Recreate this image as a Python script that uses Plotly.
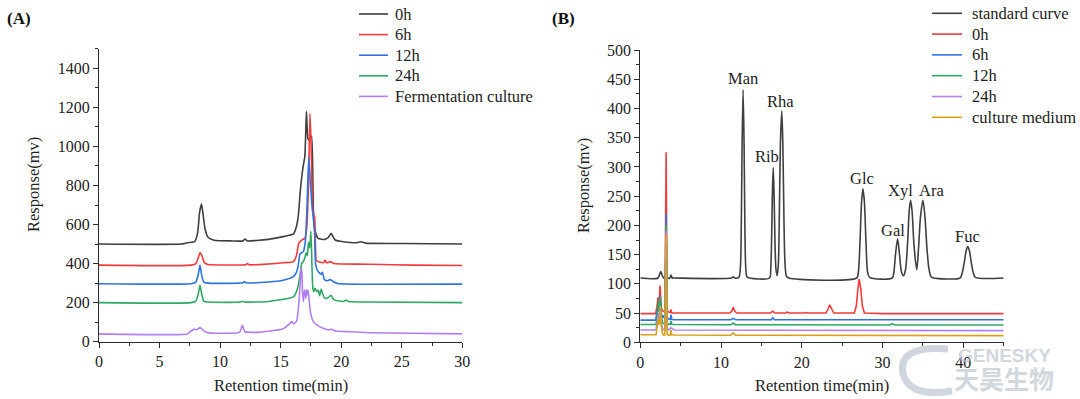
import plotly.graph_objects as go

W, H = 1080, 399
SERIF = "Liberation Serif, Times New Roman, serif"

# ---------------- Panel A data (Retention time min, Response mv) ----------------
a_names = ["0h", "6h", "12h", "24h", "Fermentation culture"]

a_0h_x = [0, 6.8, 7.3, 7.9, 8.15, 8.3, 8.47, 8.6, 8.75, 9.0, 9.5, 11.0, 11.9, 12.05, 12.25, 13.0, 14.0,
          15.2, 15.7, 16.05, 16.3, 16.45, 16.65, 16.85, 17.0, 17.13, 17.25, 17.38, 17.56, 17.7, 17.84,
          18.1, 18.65, 18.95, 19.16, 19.5, 20.2, 21.3, 21.6, 22.0, 25, 30]
a_0h_y = [500, 500, 507, 512, 560, 660, 705, 650, 580, 535, 520, 516, 516, 526, 516, 518, 524,
          538, 545, 551, 589, 640, 790, 895, 950, 1180, 1040, 1030, 1053, 680, 572,
          529, 524, 535, 555, 521, 512, 507, 512, 505, 503, 500]

a_6h_x = [0, 7.6, 8.0, 8.2, 8.35, 8.5, 8.7, 9.0, 10, 12.1, 12.25, 12.4, 14, 15.2, 16.05, 16.3, 16.5,
          16.75, 17.0, 17.15, 17.3, 17.42, 17.52, 17.62, 17.72, 17.8, 17.88, 17.95, 18.2, 18.55, 18.68,
          18.8, 19.1, 19.4, 20, 22.4, 26, 30]
a_6h_y = [392, 392, 400, 430, 457, 440, 405, 395, 393, 394, 400, 394, 398, 404, 410, 440, 505,
          520, 530, 580, 800, 1170, 1000, 720, 650, 640, 470, 415, 408, 405, 418,
          403, 410, 400, 398, 397, 392, 390]

a_12h_x = [0, 7.6, 8.0, 8.2, 8.34, 8.48, 8.65, 9.0, 11.9, 12.0, 12.15, 14, 15.2, 16.05, 16.3, 16.46,
           16.6, 16.87, 17.05, 17.18, 17.32, 17.45, 17.58, 17.7, 17.8, 17.88, 18.0, 18.15, 18.33, 18.45,
           18.6, 18.8, 19.1, 19.3, 19.7, 22.4, 30]
a_12h_y = [297, 297, 305, 345, 393, 340, 305, 300, 302, 308, 302, 306, 315, 333, 355, 393,
           450, 461, 520, 700, 947, 820, 700, 630, 560, 400, 370, 356, 345, 356,
           320, 312, 318, 310, 298, 294, 295]

a_24h_x = [0, 7.6, 8.0, 8.2, 8.34, 8.48, 8.65, 9.0, 11.7, 11.85, 12.0, 14, 15.2, 16.05, 16.3, 16.46,
           16.6, 16.74, 16.87, 17.0, 17.1, 17.2, 17.3, 17.4, 17.5, 17.58, 17.65, 17.72, 17.84, 17.98,
           18.1, 18.22, 18.35, 18.45, 18.66, 18.9, 19.15, 19.4, 19.8, 20.25, 20.4, 20.6, 22.4, 30]
a_24h_y = [200, 200, 208, 245, 290, 245, 208, 203, 203, 207, 203, 206, 217, 230, 255, 290,
           341, 401, 410, 430, 455, 440, 510, 480, 565, 400, 282, 256, 273, 256,
           265, 235, 270, 248, 222, 225, 238, 215, 208, 207, 213, 206, 203, 200]

a_fc_x = [0, 7.3, 7.51, 7.85, 8.1, 8.34, 8.55, 8.75, 9.2, 11.5, 11.64, 11.84, 12.05, 12.5, 13.36, 15.2,
          15.77, 15.9, 16.05, 16.32, 16.5, 16.6, 16.68, 16.74, 16.8, 16.87, 16.95, 17.0, 17.08, 17.15,
          17.2, 17.27, 17.35, 17.48, 17.7, 17.98, 18.5, 19.0, 19.2, 19.5, 20.8, 22.4, 30]
a_fc_y = [40, 40, 51, 63, 62, 72, 62, 51, 44, 46, 51, 84, 51, 48, 49, 66,
          94, 103, 92, 105, 197, 282, 367, 375, 265, 205, 255, 265, 222, 265,
          240, 265, 213, 145, 103, 86, 69, 60, 64, 55, 51, 46, 40]

# ---------------- Panel B data ----------------
b_names = ["standard curve", "0h", "6h", "12h", "24h", "culture medium"]

b_std_x = [0, 2.2, 2.42, 2.55, 2.7, 2.9, 3.65, 3.8, 3.95, 4.2, 11.3, 11.5, 11.7,
           12.2, 12.4, 12.5, 12.6, 12.73, 12.85, 12.95, 13.05, 13.2, 13.5,
           16.0, 16.15, 16.25, 16.35, 16.46, 16.57, 16.68, 16.8, 16.95,
           17.1, 17.2, 17.35, 17.52, 17.65, 17.8, 17.92, 18.1, 18.4,
           26.8, 27.0, 27.2, 27.4, 27.57, 27.75, 27.95, 28.15, 28.4,
           31.2, 31.4, 31.6, 31.86, 32.1, 32.35, 32.6,
           32.85, 33.1, 33.3, 33.47, 33.65, 33.9, 34.23,
           34.45, 34.7, 35.0, 35.25, 35.5, 35.75, 36.0, 36.3,
           39.6, 39.85, 40.1, 40.35, 40.55, 40.75, 41.0, 41.25, 41.5, 45]
b_std_y = [110, 110, 118, 121, 115, 110, 110, 115, 110, 110, 110, 112, 110,
           111, 130, 190, 330, 432, 340, 200, 130, 112, 110,
           110, 125, 170, 250, 299, 250, 170, 125, 114,
           135, 200, 340, 396, 340, 200, 135, 113, 110,
           110, 120, 170, 240, 263, 240, 170, 120, 111,
           110, 120, 150, 177, 150, 120, 114,
           125, 170, 225, 243, 225, 165, 124,
           160, 215, 243, 215, 160, 125, 112, 110,
           110, 118, 135, 157, 164, 157, 135, 118, 111, 110]

b_0h_x = [0, 1.9, 2.05, 2.2, 2.32, 2.45, 2.58, 2.75, 3.05, 3.2, 3.32, 3.5, 3.7, 3.8, 3.9, 4.2,
          11.1, 11.35, 11.5, 11.7, 11.95, 16.1, 16.4, 16.7, 18.0, 18.2, 18.4, 20.3, 20.5, 20.7,
          23.0, 23.25, 23.46, 23.7, 23.95, 26.5, 26.75, 26.95, 27.1, 27.3, 27.5, 27.75, 30, 45]
b_0h_y = [49, 49, 60, 77, 62, 97, 60, 54, 52, 325, 55, 52, 51, 56, 50, 50,
          50, 54, 60, 53, 50, 50, 53, 50, 50, 52, 50, 50, 51, 50,
          50, 57, 64, 57, 50, 50, 62, 92, 108, 92, 62, 50, 49, 49]

b_6h_x = [0, 1.9, 2.05, 2.2, 2.32, 2.45, 2.58, 2.75, 2.85, 2.95, 3.05, 3.2, 3.32, 3.5, 3.7, 3.8, 3.9,
          4.2, 11.2, 11.5, 11.8, 16.2, 16.4, 16.6, 45]
b_6h_y = [38, 38, 50, 62, 52, 80, 50, 42, 46, 41, 40, 220, 42, 40, 39, 47, 39,
          38.5, 38.5, 41, 38.5, 38.5, 42, 38.5, 38.5]

b_12h_x = [0, 1.95, 2.1, 2.25, 2.35, 2.48, 2.6, 2.75, 3.05, 3.2, 3.32, 3.5, 3.7, 3.8, 3.9, 4.2,
           11.2, 11.5, 11.8, 30.9, 31.2, 31.5, 45]
b_12h_y = [30.5, 30.5, 45, 70, 55, 78, 45, 33, 31, 201, 33, 31, 31, 36, 31, 30.5,
           30, 32.5, 30, 29.5, 32, 29.5, 29.5]

b_24h_x = [0, 1.95, 2.1, 2.25, 2.35, 2.48, 2.6, 2.75, 3.05, 3.2, 3.32, 3.5, 3.8, 4.2, 45]
b_24h_y = [21, 21, 35, 50, 42, 60, 35, 23, 21, 190, 23, 21, 25, 21, 20]

b_cm_x = [0, 1.95, 2.1, 2.25, 2.35, 2.48, 2.6, 2.75, 2.9, 3.05, 3.2, 3.32, 3.5, 3.7, 3.8, 3.9,
          4.3, 5.5, 11.2, 11.5, 11.8, 45]
b_cm_y = [13, 13, 28, 40, 30, 62, 28, 15, 12, 13, 185, 14, 12, 12, 21, 13,
          12.5, 12.5, 12, 16, 12, 11.5]

# peak labels of the standard curve
b_peak_labels = ["Man", "Rib", "Rha", "Glc", "Gal", "Xyl", "Ara", "Fuc"]
b_peak_label_x = [12.73, 15.7, 17.4, 27.5, 31.26, 32.24, 36.05, 40.55]
b_peak_label_y = [451, 318, 412, 280, 192, 260, 260, 181]

# ---------------- styles ----------------
COLORS_A = ["#3f3f3f", "#f23b3b", "#2f73e0", "#2ea865", "#b27ff0"]
COLORS_B = ["#3f3f3f", "#f23b3b", "#2f73e0", "#2ea865", "#b27ff0", "#d6a21c"]
AX = "#2b2b2b"
WM = "rgba(190,197,208,0.7)"

a_series = [(a_0h_x, a_0h_y), (a_6h_x, a_6h_y), (a_12h_x, a_12h_y), (a_24h_x, a_24h_y), (a_fc_x, a_fc_y)]
b_series = [(b_std_x, b_std_y), (b_0h_x, b_0h_y), (b_6h_x, b_6h_y), (b_12h_x, b_12h_y),
            (b_24h_x, b_24h_y), (b_cm_x, b_cm_y)]
for xs, ys in a_series + b_series:
    assert len(xs) == len(ys), (len(xs), len(ys))

fig = go.Figure()
for name, (xs, ys), col in zip(a_names, a_series, COLORS_A):
    fig.add_trace(go.Scatter(x=xs, y=ys, name=name, mode="lines", showlegend=False,
                             line=dict(color=col, width=1.6, shape="spline", smoothing=0.5),
                             xaxis="x", yaxis="y"))
for i, (name, (xs, ys), col) in enumerate(zip(b_names, b_series, COLORS_B)):
    fig.add_trace(go.Scatter(x=xs, y=ys, name=name, mode="lines", showlegend=False,
                             line=dict(color=col, width=1.6, shape="spline" if i == 0 else "linear",
                                       smoothing=0.8),
                             xaxis="x2", yaxis="y2"))


def px(v):
    return v / W


def py(v):
    return 1 - v / H


tickfont = dict(family=SERIF, size=16, color="#222")


def axis(domain, rng, dtick, minor, anchor):
    return dict(domain=domain, range=rng, tick0=0, dtick=dtick, ticks="outside", ticklen=5,
                tickwidth=1.2, tickcolor=AX, showline=True, linecolor=AX, linewidth=1.3,
                showgrid=False, zeroline=False, tickfont=tickfont, anchor=anchor, automargin=False,
                minor=dict(dtick=minor, tick0=0, ticks="outside", ticklen=3, tickwidth=1.1,
                           tickcolor=AX, showgrid=False))


annotations = []
shapes = []

# watermark logo swirl (drawn beneath text)
swirl = "M {:.4f},{:.4f} Q {:.4f},{:.4f} {:.4f},{:.4f} Q {:.4f},{:.4f} {:.4f},{:.4f}".format(
    px(948), py(349), px(897), py(345), px(903), py(374), px(910), py(398), px(952), py(391))
shapes.append(dict(type="path", xref="paper", yref="paper", path=swirl, layer="above",
                   line=dict(color=WM, width=7)))

# axis titles and panel labels
for xc, txt in [(280.6, "Retention time(min)"), (822, "Retention time(min)")]:
    annotations.append(dict(x=px(xc), y=py(385), xref="paper", yref="paper", text=txt,
                            showarrow=False, font=dict(family=SERIF, size=16.5, color="#222"),
                            xanchor="center", yanchor="middle"))
for xc, yc in [(34, 185), (583, 186)]:
    annotations.append(dict(x=px(xc), y=py(yc), xref="paper", yref="paper", text="Response(mv)",
                            textangle=-90, showarrow=False,
                            font=dict(family=SERIF, size=16.5, color="#222"),
                            xanchor="center", yanchor="middle"))
for xc, txt in [(19.5, "<b>(A)</b>"), (563, "<b>(B)</b>")]:
    annotations.append(dict(x=px(xc), y=py(18), xref="paper", yref="paper", text=txt,
                            showarrow=False, font=dict(family=SERIF, size=17, color="#111"),
                            xanchor="center", yanchor="middle"))

# manual legends
for names, cols, x0, x1, xt, y0, dy in [(a_names, COLORS_A, 359, 388, 393, 14, 20.6),
                                        (b_names, COLORS_B, 932, 962, 970, 13.3, 20.8)]:
    for i, (nm, col) in enumerate(zip(names, cols)):
        yy = y0 + i * dy
        shapes.append(dict(type="line", xref="paper", yref="paper", x0=px(x0), x1=px(x1),
                           y0=py(yy), y1=py(yy), line=dict(color=col, width=1.6)))
        annotations.append(dict(x=px(xt), y=py(yy), xref="paper", yref="paper", text=nm,
                                showarrow=False, font=dict(family=SERIF, size=16.5, color="#222"),
                                xanchor="left", yanchor="middle"))

# peak labels
for lab, lx, ly in zip(b_peak_labels, b_peak_label_x, b_peak_label_y):
    annotations.append(dict(x=lx, y=ly, xref="x2", yref="y2", text=lab, showarrow=False,
                            font=dict(family=SERIF, size=16.5, color="#222"),
                            xanchor="center", yanchor="middle"))

# watermark text
annotations.append(dict(x=px(1004), y=py(355), xref="paper", yref="paper", text="<b>GENESKY</b>",
                        showarrow=False, font=dict(family="Liberation Sans, Arial", size=19, color=WM),
                        xanchor="center", yanchor="middle"))
annotations.append(dict(x=px(1004), y=py(378), xref="paper", yref="paper", text="<b>天昊生物</b>",
                        showarrow=False, font=dict(family="Noto Sans CJK SC", size=25, color=WM),
                        xanchor="center", yanchor="middle"))

fig.update_layout(
    width=W, height=H, autosize=False,
    margin=dict(l=0, r=0, t=0, b=0),
    paper_bgcolor="white", plot_bgcolor="white",
    showlegend=False,
    xaxis=axis([px(99), px(462.3)], [0, 30], 5, 2.5, "y"),
    yaxis=axis([py(341.7), py(48.8)], [0, 1500], 200, 100, "x"),
    xaxis2=axis([px(640.3), px(1003.7)], [0, 45], 10, 5, "y2"),
    yaxis2=axis([py(342.3), py(50)], [0, 500], 50, 25, "x2"),
    annotations=annotations,
    shapes=shapes,
)

fig.write_html("out.html", config={"displayModeBar": False},
               post_script="document.body.style.margin='0';document.body.style.overflow='hidden';")
